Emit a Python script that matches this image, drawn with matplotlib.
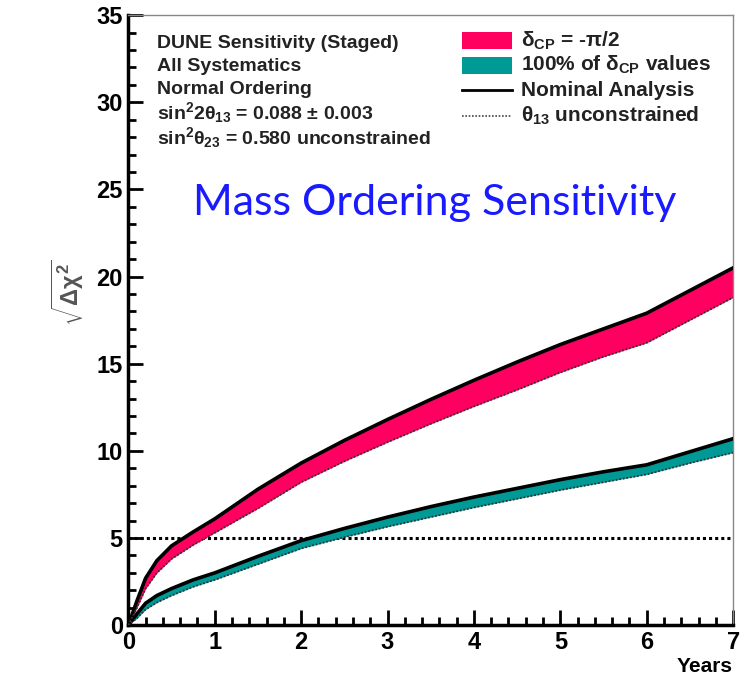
import matplotlib
matplotlib.use("Agg")
import matplotlib.pyplot as plt
from matplotlib.patches import Rectangle
from matplotlib.lines import Line2D
from matplotlib.ticker import MultipleLocator

years = [0, 0.1, 0.2, 0.33, 0.5, 0.75, 1, 1.5, 2, 2.5, 3, 3.5, 4, 4.5, 5, 5.5, 6, 6.5, 7]
pink_upper = [0, 1.4, 2.7, 3.7, 4.55, 5.35, 6.1, 7.8, 9.3, 10.6, 11.8, 12.95, 14.05, 15.1,
              16.1, 17.0, 17.9, 19.2, 20.5]
pink_lower = [0, 1.0, 2.1, 3.0, 3.8, 4.6, 5.3, 6.7, 8.2, 9.4, 10.5, 11.55, 12.55, 13.5,
              14.5, 15.4, 16.2, 17.5, 18.8]
teal_upper = [0, 0.65, 1.26, 1.7, 2.1, 2.6, 3.0, 3.95, 4.85, 5.55, 6.2, 6.8, 7.35, 7.85,
              8.35, 8.8, 9.2, 9.95, 10.7]
teal_lower = [0, 0.4, 0.9, 1.3, 1.7, 2.2, 2.6, 3.5, 4.4, 5.05, 5.65, 6.2, 6.75, 7.25,
              7.75, 8.2, 8.65, 9.3, 9.9]
threshold = 5

info_lines = ["DUNE Sensitivity (Staged)", "All Systematics", "Normal Ordering",
              r"sin$^2$2$\theta_{13}$ = 0.088 $\pm$ 0.003",
              r"sin$^2$$\theta_{23}$ = 0.580 unconstrained"]
legend_labels = [r"$\delta_{\mathrm{CP}}$ = -$\pi$/2",
                 r"100% of $\delta_{\mathrm{CP}}$ values",
                 "Nominal Analysis",
                 r"$\theta_{13}$ unconstrained"]

PINK = "#ff0060"
TEAL = "#009a96"

plt.rcParams['font.family'] = ['Liberation Sans', 'DejaVu Sans']
plt.rcParams['mathtext.fontset'] = 'custom'
plt.rcParams['mathtext.rm'] = 'Liberation Sans:bold'
plt.rcParams['mathtext.it'] = 'Liberation Sans:bold'
plt.rcParams['mathtext.bf'] = 'Liberation Sans:bold'

fig = plt.figure(figsize=(7.55, 6.87), dpi=100)
ax = fig.add_axes([0.170, 0.090, 0.801, 0.888])

ax.fill_between(years, pink_lower, pink_upper, color=PINK, lw=0, zorder=2)
ax.fill_between(years, teal_lower, teal_upper, color=TEAL, lw=0, zorder=2)
ax.plot(years, pink_upper, color='black', lw=2.6, zorder=3, solid_joinstyle='round')
ax.plot(years, teal_upper, color='black', lw=2.6, zorder=3, solid_joinstyle='round')
ax.plot(years, pink_lower, color='#333333', lw=1.3, ls=(0, (1, 1)), zorder=3)
ax.plot(years, teal_lower, color='#333333', lw=1.3, ls=(0, (1, 1)), zorder=3)
ax.axhline(threshold, color='black', lw=2.2, ls=(0, (1, 1)), zorder=1)

ax.set_xlim(0, 7)
ax.set_ylim(0, 35)
ax.xaxis.set_major_locator(MultipleLocator(1))
ax.xaxis.set_minor_locator(MultipleLocator(0.2))
ax.yaxis.set_major_locator(MultipleLocator(5))
ax.yaxis.set_minor_locator(MultipleLocator(1))
ax.tick_params(which='both', direction='in', top=False, right=False, width=2, color='black')
ax.tick_params(which='major', length=11, labelsize=17, pad=4)
ax.tick_params(which='minor', length=6)
for lab in ax.get_xticklabels() + ax.get_yticklabels():
    lab.set_fontweight('bold')
for s in ['left', 'bottom']:
    ax.spines[s].set_linewidth(2.5)
for s in ['top', 'right']:
    ax.spines[s].set_linewidth(1.0)
    ax.spines[s].set_color('#888888')

ax.set_xlabel("Years", fontsize=15, fontweight='bold', loc='right', labelpad=2)
ax.text(-0.100, 0.545, r"$\sqrt{\Delta\chi^2}$", transform=ax.transAxes, rotation=90,
        ha='center', va='center', fontsize=17, color='#555555')

ys = [0.954, 0.916, 0.878, 0.840, 0.800]
for t, y in zip(info_lines, ys):
    ax.text(0.048, y, t, transform=ax.transAxes, fontsize=14, fontweight='bold',
            ha='left', va='center', color='#222222')

ly = [0.958, 0.918, 0.877, 0.835]
ax.add_patch(Rectangle((0.552, ly[0] - 0.014), 0.083, 0.028, transform=ax.transAxes,
                       color=PINK, lw=0, clip_on=False))
ax.add_patch(Rectangle((0.552, ly[1] - 0.014), 0.083, 0.028, transform=ax.transAxes,
                       color=TEAL, lw=0, clip_on=False))
ax.add_line(Line2D([0.552, 0.635], [ly[2], ly[2]], transform=ax.transAxes, color='black', lw=2))
ax.add_line(Line2D([0.552, 0.635], [ly[3], ly[3]], transform=ax.transAxes, color='#444444',
                   lw=1.2, ls=(0, (1, 1))))
for t, y in zip(legend_labels, ly):
    ax.text(0.650, y, t, transform=ax.transAxes, fontsize=15, fontweight='bold',
            ha='left', va='center', color='#222222')

ax.text(0.507, 0.692, "Mass Ordering Sensitivity", transform=ax.transAxes, fontsize=31,
        color='#1a1aff', ha='center', va='center', family='Lato')

fig.savefig("out.png", dpi=100)
